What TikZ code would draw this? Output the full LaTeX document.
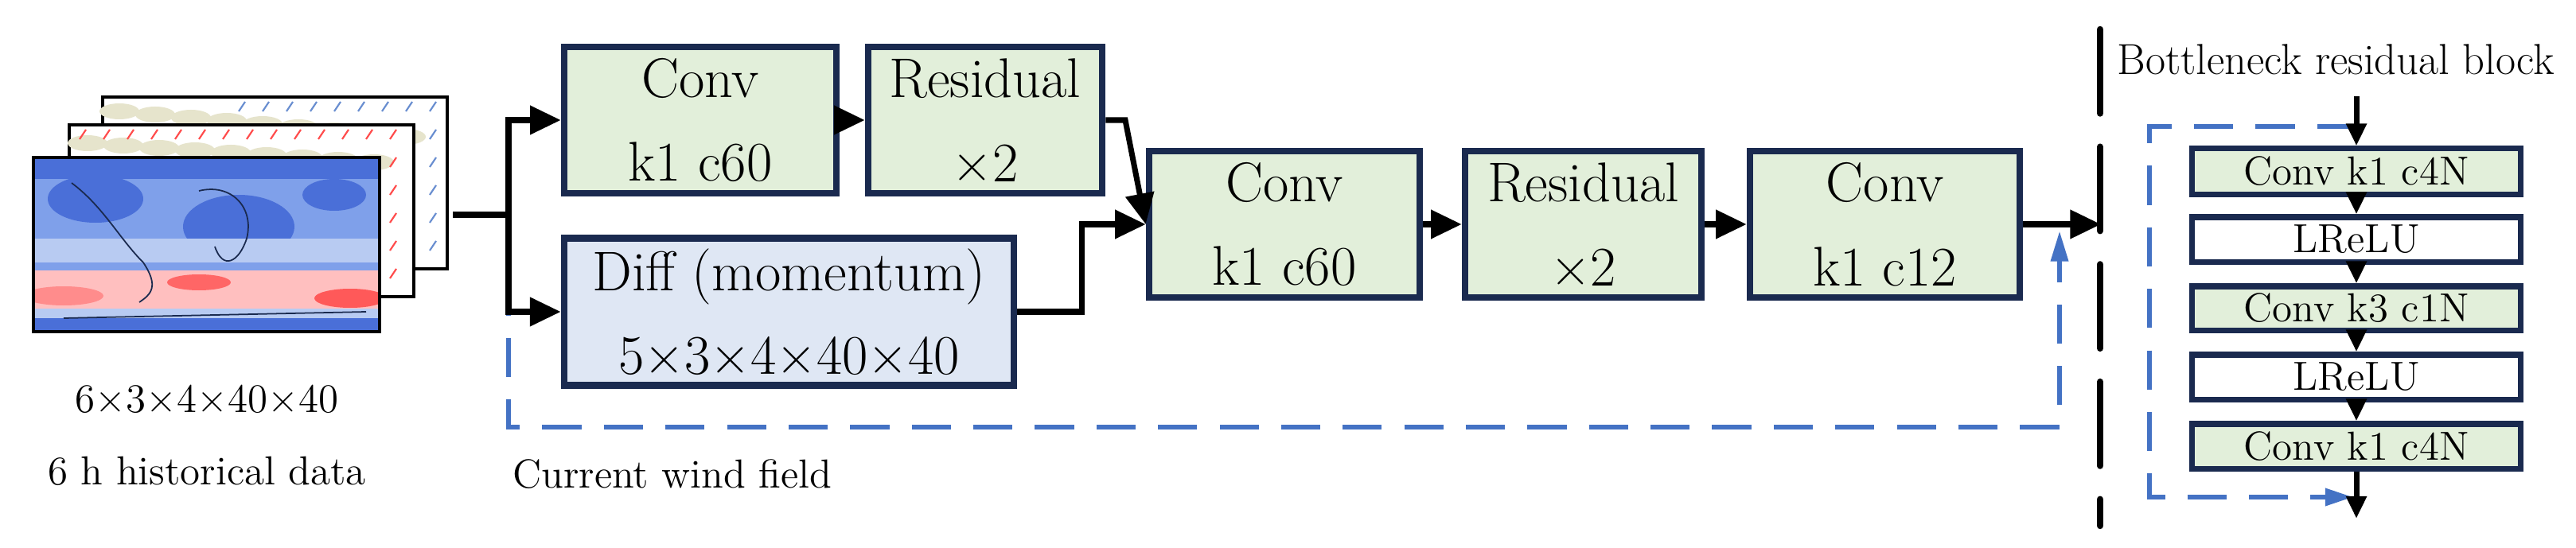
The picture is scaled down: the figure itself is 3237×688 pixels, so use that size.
\documentclass[tikz,border=0pt]{standalone}
\usepackage{fontspec}
\usetikzlibrary{arrows.meta}
\definecolor{gfill}{HTML}{E2EFDA}
\definecolor{bfill}{HTML}{DFE7F4}
\definecolor{navy}{HTML}{1A2A4F}
\definecolor{dblue}{HTML}{4472C4}
\definecolor{land}{HTML}{E6E4CC}
\definecolor{m1}{HTML}{4A6FD8}
\definecolor{m2}{HTML}{7FA0EA}
\definecolor{m3}{HTML}{B8CBF2}
\begin{document}
\begin{tikzpicture}[x=0.01cm,y=-0.01cm,
 blk/.style={draw=navy,line width=2.4pt,fill=gfill,inner sep=0pt,align=center,font=\fontsize{20}{30}\selectfont},
 sblk/.style={draw=navy,line width=2pt,fill=gfill,inner sep=0pt,minimum width=4.12cm,font=\fontsize{14.5}{16}\selectfont},
 flow/.style={line width=2pt,-{Triangle[length=11pt,width=10pt]}},
 sflow/.style={line width=2pt,-{Triangle[length=8pt,width=7pt]}},
 skip/.style={draw=dblue,line width=1.8pt,dash pattern=on 14pt off 8pt},
 lbl/.style={font=\fontsize{14.5}{16}\selectfont}]
\useasboundingbox (0,0) rectangle (3237,688);
% maps
\fill[white,draw=black,line width=1pt] (129,122) rectangle (562,338);
\foreach \i in {0,...,8}{\fill[land] (150+\i*45,140+\i*4) ellipse (25 and 10);}
\foreach \x in {300,330,...,540}{\foreach \y in {140,175,...,320}{\draw[dblue!80,line width=0.6pt] (\x,\y)--(\x+8,\y-12);}}
\fill[white,draw=black,line width=1pt] (87,157) rectangle (520,373);
\foreach \i in {0,...,8}{\fill[land] (110+\i*45,180+\i*3) ellipse (25 and 10);}
\foreach \x in {100,130,...,500}{\foreach \y in {175,210,...,360}{\draw[red!70,line width=0.6pt] (\x,\y)--(\x+8,\y-12);}}
\begin{scope}
\clip (42,198) rectangle (477,417);
\fill[m2] (42,198) rectangle (477,417);
\fill[m1] (42,198) rectangle (477,225);
\fill[m1] (120,250) ellipse (60 and 30);
\fill[m1] (300,285) ellipse (70 and 40);
\fill[m1] (420,245) ellipse (40 and 20);
\fill[m3] (42,300) rectangle (477,330);
\fill[red!25!white] (42,340) rectangle (477,388);
\fill[red!60!white] (250,355) ellipse (40 and 10);
\fill[red!45!white] (80,372) ellipse (50 and 12);
\fill[red!65!white] (440,375) ellipse (45 and 12);
\fill[m3] (42,388) rectangle (477,400);
\fill[m1] (42,400) rectangle (477,417);
\draw[navy,line width=0.5pt] (90,230) .. controls (130,260) and (150,300) .. (180,330) .. controls (200,360) and (190,370) .. (175,380);
\draw[navy,line width=0.5pt] (250,240) .. controls (290,230) and (320,260) .. (310,300) .. controls (300,330) and (280,340) .. (270,310);
\draw[navy,line width=0.5pt] (80,400) -- (460,392);
\end{scope}
\draw[black,line width=1pt] (42,198) rectangle (477,417);
\node[lbl] (dims) at (260,502) {6×3×4×40×40};
\node[lbl] (hist) at (260,592) {6 h historical data};
\coordinate (mapout) at (569,270);
\coordinate (split) at (639,270);
% blocks
\node[blk,minimum width=3.42cm,minimum height=1.84cm] (c1) at (880,151) {Conv\\k1 c60};
\node[blk,minimum width=2.94cm,minimum height=1.84cm] (r1) at (1238,151) {Residual\\×2};
\node[blk,fill=bfill,minimum width=5.65cm,minimum height=1.85cm] (df) at (991.5,392) {Diff (momentum)\\5×3×4×40×40};
\node[blk,minimum width=3.40cm,minimum height=1.84cm] (c2) at (1614,282) {Conv\\k1 c60};
\node[blk,minimum width=2.97cm,minimum height=1.84cm] (r2) at (1989.5,282) {Residual\\×2};
\node[blk,minimum width=3.39cm,minimum height=1.84cm] (c3) at (2368.5,282) {Conv\\k1 c12};
\node[lbl,anchor=west] (cw) at (632,596) {Current wind field};
\coordinate (out) at (2640,282);
% skip
\draw[skip,-{Triangle[length=11pt,width=6pt]}] (split) -- (639,537) -- (2588,537) -- (2588,290);
% connectors
\draw[line width=2pt] (mapout) -- (split);
\draw[flow] (split) |- (c1.west);
\draw[flow] (split) |- (df.west);
\draw[flow] (c1) -- (r1);
\draw[flow] (r1.east) -- (1414,151) -- (c2.west);
\draw[flow] (df.east) -- (1359,392) -- (1359,282) -- (c2.west);
\draw[flow] (c2) -- (r2);
\draw[flow] (r2) -- (c3);
\draw[flow] (c3) -- (out);
% divider
\draw[line width=2.4pt,dash pattern=on 30pt off 12pt,line cap=round] (2639,37) -- (2639,661);
\node[lbl,font=\fontsize{15.5}{16}\selectfont] (bt) at (2935,75) {Bottleneck residual block};
\node[sblk,minimum height=0.57cm] (b1) at (2961,215.5) {Conv k1 c4N};
\node[sblk,fill=white,minimum height=0.56cm] (b2) at (2961,301) {LReLU};
\node[sblk,minimum height=0.55cm] (b3) at (2961,387.5) {Conv k3 c1N};
\node[sblk,fill=white,minimum height=0.56cm] (b4) at (2961,474) {LReLU};
\node[sblk,minimum height=0.56cm] (b5) at (2961,561) {Conv k1 c4N};
\coordinate (bin) at (2961,121);
\coordinate (bout) at (2961,652);
\draw[skip,-{Triangle[length=10pt,width=6pt]}] (2961,159) -- (2701,159) -- (2701,625) -- (2957,625);
\draw[sflow] (bin) -- (b1);
\draw[sflow] (b1) -- (b2);
\draw[sflow] (b2) -- (b3);
\draw[sflow] (b3) -- (b4);
\draw[sflow] (b4) -- (b5);
\draw[sflow] (b5) -- (bout);
\end{tikzpicture}
\end{document}
